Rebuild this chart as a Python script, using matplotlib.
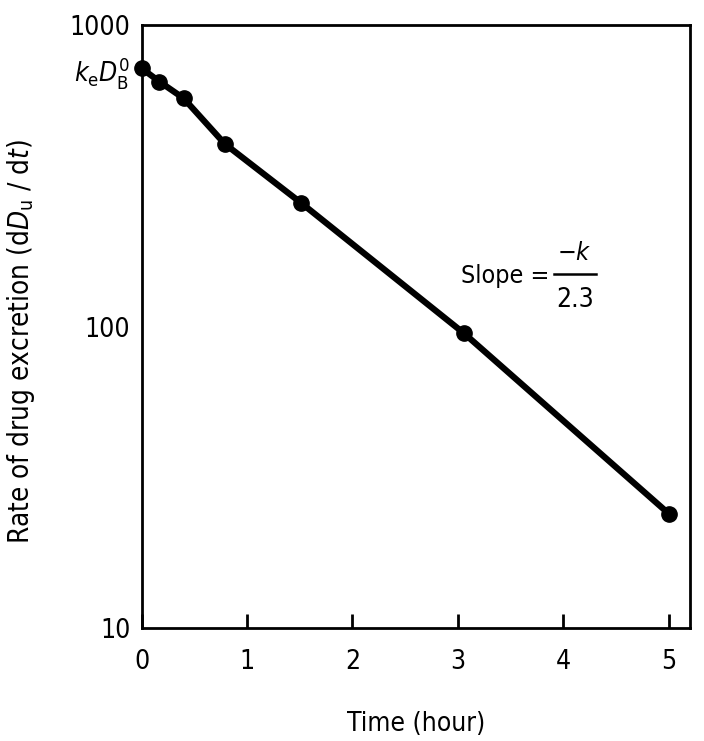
import matplotlib.pyplot as plt
from matplotlib.ticker import FixedLocator, NullLocator

# данные
time_h = [0, 0.17, 0.40, 0.79, 1.51, 3.06, 5.0]
rate = [720, 650, 572, 404, 258, 95, 24]

y_ticks = [10, 100, 720, 1000]
y_labels = ['10', '100', r'$k_{\mathrm{e}}D_{\mathrm{B}}^{0}$', '1000']
x_ticks = [0, 1, 2, 3, 4, 5]

plt.rcParams['font.family'] = ['DejaVu Sans']
plt.rcParams['font.stretch'] = 'condensed'
plt.rcParams['mathtext.fontset'] = 'dejavusans'

fig = plt.figure(figsize=(7.04, 7.41), dpi=100)
ax = fig.add_axes([0.201, 0.152, 0.779, 0.814])

ax.plot(time_h, rate, color='black', linewidth=4.5, marker='o', markersize=11,
        solid_capstyle='round', clip_on=False, zorder=3)

ax.set_yscale('log')
ax.set_ylim(10, 1000)
ax.set_xlim(0, 5.2)

ax.yaxis.set_major_locator(FixedLocator(y_ticks))
ax.yaxis.set_minor_locator(NullLocator())
ax.set_yticklabels(y_labels)
ax.set_xticks(x_ticks)

ax.tick_params(axis='x', direction='in', length=10, width=2, labelsize=19, pad=15)
ax.tick_params(axis='y', length=0, labelsize=19, pad=8)

for s in ax.spines.values():
    s.set_linewidth(2)

ax.set_xlabel('Time (hour)', fontsize=19, labelpad=26)
ax.set_ylabel(r'Rate of drug excretion (d$D_{\mathrm{u}}$ / d$t$)', fontsize=20)
ax.yaxis.set_label_coords(-0.19, 0.475)

# подпись наклона
ax.text(0.663, 0.584, 'Slope =', transform=ax.transAxes, fontsize=18,
        ha='center', va='center')
ax.text(0.790, 0.622, r'$-k$', transform=ax.transAxes, fontsize=18,
        ha='center', va='center')
ax.text(0.790, 0.545, '2.3', transform=ax.transAxes, fontsize=19,
        ha='center', va='center')
ax.plot([0.752, 0.828], [0.587, 0.587], transform=ax.transAxes, color='black',
        linewidth=1.8, clip_on=False)

plt.savefig('out.png', dpi=100)
